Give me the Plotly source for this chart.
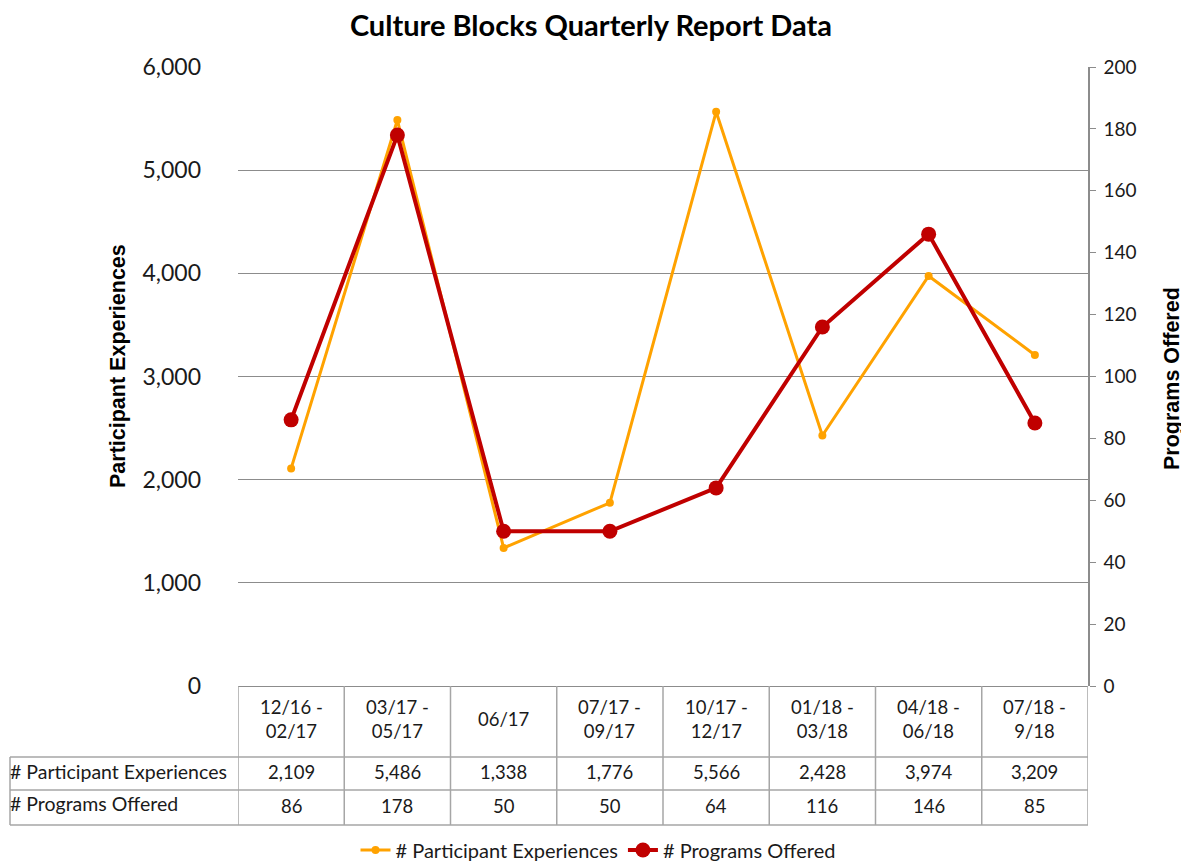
import plotly.graph_objects as go

categories = ["12/16 -<br>02/17", "03/17 -<br>05/17", "06/17", "07/17 -<br>09/17",
              "10/17 -<br>12/17", "01/18 -<br>03/18", "04/18 -<br>06/18", "07/18 -<br>9/18"]
participants = [2109, 5486, 1338, 1776, 5566, 2428, 3974, 3209]
programs = [86, 178, 50, 50, 64, 116, 146, 85]
series_names = ["# Participant Experiences", "# Programs Offered"]

ORANGE = "#FFA200"
RED = "#C00000"
GRID = "#8C8C8C"
TBL = "#A6A6A6"
CAL = "Lato, Carlito, Calibri, sans-serif"
ARB = "Liberation Sans, Arial, sans-serif"
TXT = "#1a1a1a"

x = list(range(len(categories)))

fig = go.Figure()
fig.add_trace(go.Scatter(x=x, y=participants, name=series_names[0], mode="lines+markers",
                         line=dict(color=ORANGE, width=3), marker=dict(color=ORANGE, size=8)))
fig.add_trace(go.Scatter(x=x, y=programs, name=series_names[1], mode="lines+markers",
                         yaxis="y2", line=dict(color=RED, width=4), marker=dict(color=RED, size=15)))

OFF = 8  # page body margin
W, H = 1189 - OFF, 862 - OFF
L, R, T, B = 238, 1088, 67, 686   # plot area in screenshot pixels
ph = B - T

def py(px):
    return (B - px) / ph

def pxx(px):
    return (px - L) / (R - L)

row_tops = [686, 757, 790, 825]
n = len(categories)

shapes = []
for i in range(n + 1):
    shapes.append(dict(type="line", xref="x", yref="paper", x0=i - 0.5, x1=i - 0.5,
                       y0=py(686), y1=py(825), line=dict(color=TBL, width=1.5)))
shapes.append(dict(type="line", xref="paper", yref="paper", x0=pxx(10), x1=pxx(10),
                   y0=py(757), y1=py(825), line=dict(color=TBL, width=1.5)))
for yy in row_tops[1:]:
    shapes.append(dict(type="line", xref="paper", yref="paper", x0=pxx(10), x1=1,
                       y0=py(yy), y1=py(yy), line=dict(color=TBL, width=1.5)))

annotations = []
tf = dict(family=CAL, size=18.5, color=TXT)
lf = dict(family=CAL, size=19.5, color=TXT)
for i, c in enumerate(categories):
    annotations.append(dict(x=i, y=py(719), xref="x", yref="paper", text=c, showarrow=False,
                            yanchor="middle", font=tf, align="center"))
    annotations.append(dict(x=i, y=py(772), xref="x", yref="paper", text=f"{participants[i]:,}",
                            yanchor="middle", showarrow=False, font=tf))
    annotations.append(dict(x=i, y=py(806), xref="x", yref="paper", text=f"{programs[i]:,}",
                            yanchor="middle", showarrow=False, font=tf))
annotations.append(dict(x=pxx(8), y=py(771), xref="paper", yref="paper", text=series_names[0],
                        showarrow=False, xanchor="left", yanchor="middle", font=lf))
annotations.append(dict(x=pxx(8), y=py(803), xref="paper", yref="paper", text=series_names[1],
                        showarrow=False, xanchor="left", yanchor="middle", font=lf))
annotations.append(dict(x=pxx(118), y=py(366), xref="paper", yref="paper",
                        text="<b>Participant Experiences</b>", textangle=-90, showarrow=False,
                        xanchor="center", yanchor="middle",
                        font=dict(family=ARB, size=21.5, color="black")))
annotations.append(dict(x=pxx(1172), y=py(379), xref="paper", yref="paper",
                        text="<b>Programs Offered</b>", textangle=-90, showarrow=False,
                        xanchor="center", yanchor="middle",
                        font=dict(family=ARB, size=21.5, color="black")))

fig.update_layout(
    width=W, height=H,
    margin=dict(l=L - OFF, r=W - (R - OFF), t=T - OFF, b=H - (B - OFF), autoexpand=False),
    plot_bgcolor="white", paper_bgcolor="white",
    title=dict(text="<b>Culture Blocks Quarterly Report Data</b>", x=(591 - OFF) / W, xref="container",
               xanchor="center", y=1 - (26 - OFF) / H, yanchor="middle",
               font=dict(family=CAL, size=29, color="black")),
    xaxis=dict(range=[-0.5, n - 0.5], showticklabels=False, showgrid=False, zeroline=False,
               showline=False, fixedrange=True, automargin=False),
    yaxis=dict(range=[0, 6000], dtick=1000, tickformat=",", showgrid=True, gridcolor=GRID, gridwidth=1.3,
               zeroline=True, zerolinecolor=GRID, zerolinewidth=1.3, showline=False, automargin=False,
               ticklabelstandoff=36, tickfont=dict(family=CAL, size=23, color=TXT)),
    yaxis2=dict(range=[0, 200], dtick=20, overlaying="y", side="right", showgrid=False, zeroline=False,
                showline=True, linecolor=GRID, linewidth=1.5, ticks="outside", ticklen=6, tickcolor=GRID,
                tickwidth=1.3, ticklabelstandoff=4, automargin=False,
                tickfont=dict(family=CAL, size=19, color=TXT)),
    legend=dict(orientation="h", x=pxx(598), xanchor="center", y=py(850), yanchor="middle",
                font=dict(family=CAL, size=20, color=TXT), tracegroupgap=0, entrywidthmode="pixels"),
    shapes=shapes,
    annotations=annotations,
    showlegend=True,
)

fig.write_html("out.html")
